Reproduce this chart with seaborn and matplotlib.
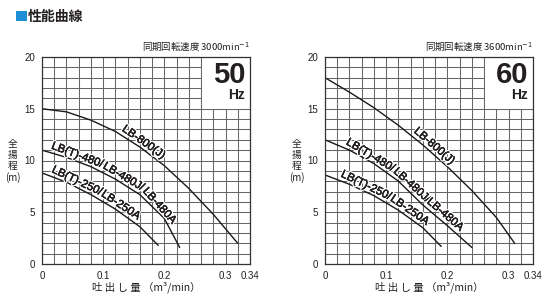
import numpy as np
import pandas as pd
import matplotlib
matplotlib.use("Agg")
import matplotlib.pyplot as plt
import seaborn as sns
from matplotlib.patches import Rectangle
from matplotlib.transforms import IdentityTransform
from matplotlib.font_manager import FontProperties
import matplotlib.patheffects as pe

# ---------------- data ----------------
models = ["LB-800(J)", "LB(T)-480/LB-480J/LB-480A", "LB(T)-250/LB-250A"]
model_chunks = [["LB-800(J)"], ["LB(T)-480/", "LB-480J/", "LB-480A"], ["LB(T)-250/", "LB-250A"]]

# 50 Hz
q50_800 = [0, 0.04, 0.08, 0.12, 0.16, 0.20, 0.24, 0.28, 0.32]
h50_800 = [15.0, 14.7, 13.9, 12.8, 11.3, 9.5, 7.3, 4.8, 2.0]
q50_480 = [0, 0.04, 0.08, 0.12, 0.16, 0.20, 0.225]
h50_480 = [11.0, 10.3, 9.4, 8.2, 6.7, 4.4, 1.6]
q50_250 = [0, 0.04, 0.08, 0.12, 0.16, 0.19]
h50_250 = [8.8, 7.9, 6.7, 5.3, 3.6, 1.8]

# 60 Hz
q60_800 = [0, 0.04, 0.08, 0.12, 0.16, 0.20, 0.24, 0.28, 0.31]
h60_800 = [18.0, 16.6, 15.1, 13.4, 11.5, 9.4, 7.1, 4.5, 2.0]
q60_480 = [0, 0.04, 0.08, 0.12, 0.16, 0.20, 0.24]
h60_480 = [12.0, 11.0, 9.7, 8.0, 5.7, 3.7, 1.6]
q60_250 = [0, 0.04, 0.08, 0.12, 0.16, 0.19]
h60_250 = [8.6, 7.7, 6.6, 5.2, 3.5, 1.7]

x_ticks = [0, 0.1, 0.2, 0.3, 0.34]
x_ticklabels = ["0", "0.1", "0.2", "0.3", "0.34"]
y_ticks = [0, 5, 10, 15, 20]

# where each curve label starts (flow value)
label_start50 = [0.126, 0.012, 0.012]
label_start60 = [0.140, 0.030, 0.022]

speeds = ["同期回転速度 3000min$^{-1}$", "同期回転速度 3600min$^{-1}$"]
hz = ["50", "60"]

# ---------------- style ----------------
sns.set_theme(style="white")
plt.rcParams["font.family"] = ["Liberation Sans", "Noto Sans CJK JP", "DejaVu Sans"]
CJK = ["Noto Sans CJK JP", "DejaVu Sans"]
GRID = "#666666"
DARK = "#231f20"
LABEL_FS = 8.2

fig = plt.figure(figsize=(5.5, 3), dpi=100)
fig.patch.set_facecolor("white")
renderer = fig.canvas.get_renderer()
label_prop = FontProperties(family="Liberation Sans", size=LABEL_FS)

axL = fig.add_axes([42 / 550, 36 / 300, 208 / 550, 207 / 300])
axR = fig.add_axes([325 / 550, 36 / 300, 208 / 550, 207 / 300])


def label_along(ax, q, h, chunks, q_start, offset=4.2):
    pts = ax.transData.transform(np.column_stack([q, h]))
    seg = np.hypot(np.diff(pts[:, 0]), np.diff(pts[:, 1]))
    cum = np.concatenate([[0], np.cumsum(seg)])
    x0 = ax.transData.transform((q_start, 0))[0]
    s = np.interp(x0, pts[:, 0], cum)

    def p_at(sv):
        return np.array([np.interp(sv, cum, pts[:, 0]), np.interp(sv, cum, pts[:, 1])])

    for ch in chunks:
        w, _, _ = renderer.get_text_width_height_descent(ch, label_prop, ismath=False)
        a, b = p_at(s), p_at(s + w)
        d = b - a
        ang = np.arctan2(d[1], d[0])
        n = np.array([-np.sin(ang), np.cos(ang)])
        mid = (a + b) / 2 + n * offset
        ax.text(mid[0], mid[1], ch, transform=IdentityTransform(),
                fontproperties=label_prop, color=DARK,
                rotation=np.degrees(ang), rotation_mode="anchor",
                ha="center", va="baseline", zorder=5,
                path_effects=[pe.withStroke(linewidth=2.2, foreground="white"),
                              pe.Stroke(linewidth=0.35, foreground=DARK),
                              pe.Normal()])
        s += w


panels = [
    (axL, [(q50_800, h50_800), (q50_480, h50_480), (q50_250, h50_250)], label_start50, speeds[0], hz[0]),
    (axR, [(q60_800, h60_800), (q60_480, h60_480), (q60_250, h60_250)], label_start60, speeds[1], hz[1]),
]

for ax, curves, starts, spd, hzt in panels:
    ax.set_xlim(0, 0.34)
    ax.set_ylim(0, 20)
    ax.set_xticks(x_ticks)
    ax.set_xticklabels(x_ticklabels)
    ax.set_yticks(y_ticks)
    ax.set_xticks(np.linspace(0, 0.34, 18), minor=True)
    ax.set_yticks(np.arange(0, 21, 1), minor=True)
    ax.grid(which="both", color=GRID, linewidth=0.75)
    ax.set_axisbelow(True)
    ax.tick_params(which="both", length=0, labelsize=7, colors=DARK, pad=5)
    for sp in ax.spines.values():
        sp.set_color("#333333")
        sp.set_linewidth(0.9)

    # white box for Hz
    ax.add_patch(Rectangle((0.26, 15), 0.08, 5, facecolor="white",
                           edgecolor=GRID, linewidth=0.75, zorder=1.5))
    ax.text(0.332, 18.25, hzt, fontsize=21, fontweight="bold", color=DARK,
            ha="right", va="center", zorder=3)
    ax.text(0.331, 16.3, "Hz", fontsize=10, fontweight="bold", color=DARK,
            ha="right", va="center", zorder=3)

    for (q, h), chunks, qs in zip(curves, model_chunks, starts):
        df = pd.DataFrame({"q": q, "h": h})
        sns.lineplot(data=df, x="q", y="h", ax=ax, color="#1a1a1a",
                     linewidth=1.0, sort=False, zorder=2)
        label_along(ax, q, h, chunks, qs)

    ax.set_xlabel("")
    ax.set_ylabel("")
    ax.text(1.0, 1.02, spd, transform=ax.transAxes, ha="right", va="bottom",
            fontsize=6.8, color=DARK, family=CJK)
    ax.text(0.5, -0.112, "吐 出 し 量 （m³/min）", transform=ax.transAxes,
            ha="center", va="center", fontsize=7.5, color=DARK, family=CJK)

# y labels (vertical stacked characters)
for xc in (13 / 550, 297 / 550):
    for ch, yp in zip(["全", "揚", "程", "(m)"], [144, 155, 166, 178]):
        fig.text(xc, 1 - yp / 300, ch, ha="center", va="center",
                 fontsize=7, color=DARK, family=CJK)

# title
fig.patches.append(Rectangle((16 / 550, 1 - 21 / 300), 11 / 550, 10 / 300,
                             transform=fig.transFigure, facecolor="#1e8fd6",
                             edgecolor="none"))
fig.text(28 / 550, 1 - 16.5 / 300, "性能曲線", color=DARK, fontsize=10,
         fontweight="bold", ha="left", va="center", family=CJK)

fig.savefig("out.png", dpi=100, facecolor="white")
